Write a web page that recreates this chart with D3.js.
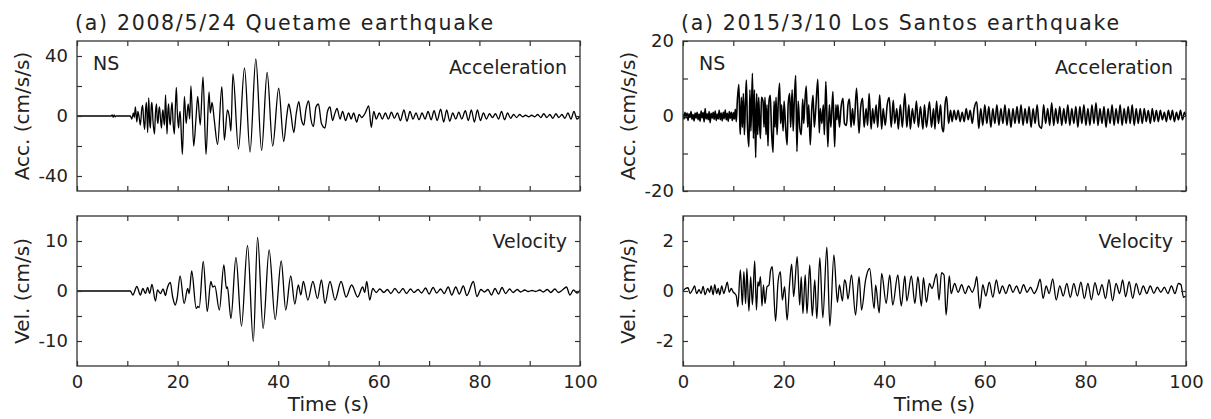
<!DOCTYPE html>
<html>
<head>
<meta charset="utf-8">
<script src="https://d3js.org/d3.v7.min.js"></script>
<style>
  body { margin: 0; background: #fff; }
  text { font-family: "DejaVu Sans", Verdana, sans-serif; fill: #222; }
  .axis path { display: none; }
  .axis line { stroke: #333; stroke-width: 1.2; }
  .axis text { font-size: 18px; fill: #222; }
</style>
</head>
<body>
<svg id="chart" width="1211" height="419"></svg>
<script>
// ---- data (time s, value) ----
const titles = ["(a) 2008/5/24 Quetame earthquake", "(a) 2015/3/10 Los Santos earthquake"];
const titleWidths = [418, 438];
const xTicks = [0, 10, 20, 30, 40, 50, 60, 70, 80, 90, 100];
const xLabels = [0, 20, 40, 60, 80, 100];

// Quetame acceleration (cm/s/s)
const quetameAcc = [[0,0],[6.8,0],[7.0,0.8],[7.2,-0.8],[7.4,0.8],[7.6,-0.6],[7.8,0],[10.6,0],
  [10.9,-2],[11.2,2],[11.4,-1],[11.6,6],[11.9,-4],[12.1,3],[12.4,-2],[12.6,-6],[12.85,4],[13.05,7],[13.25,-3],[13.45,-9],
  [13.65,5],[13.8,9],[14.05,-11],[14.25,12],[14.45,-4],[14.6,-8],[14.75,6],[14.9,9],[15.1,-3],[15.4,-12],[15.6,2],[15.8,8],
  [15.95,-2],[16.1,-5],[16.25,3],[16.4,6],[16.6,-2],[16.8,-8],[16.95,1],[17.1,4],[17.25,-3],[17.4,-6],[17.6,14],[17.9,-12],
  [18.05,2],[18.2,8],[18.35,-1],[18.55,-6],[18.7,3],[18.9,9],[19.1,-4],[19.35,-12],[19.55,5],[19.75,19],[19.95,2],[20.2,-8],
  [20.35,0],[20.5,3],[20.95,-25.5],[21.35,13],[21.7,-5],[22.1,8],[22.4,-2],[22.65,20],[23.2,-20],[23.65,-2],[24.0,13],
  [24.5,-6],[25.05,26],[25.65,-25.5],[26.25,16],[26.5,2],[26.85,9],[27.3,-3],[27.95,-19],[28.8,19.5],[29.3,-16],[29.9,4],
  [30.3,-1],[30.6,-10],[31.0,28],[32.1,-22],[33.3,32],[34.4,-24],[35.55,38],[36.7,-23],[37.8,29],[38.9,-20],[40.1,18.5],
  [41.1,-17],[41.7,0],[42.1,8],[42.5,2],[43.1,-11],[43.6,2],[44.1,9.5],[44.6,-2],[45.1,-6],[45.5,4],[46.05,10],[46.5,-2],
  [47.0,-7],[47.5,6],[48.0,8],[48.6,-5],[49.3,-8],[49.8,3],[50.3,6],[50.8,-3],[51.2,1],[51.7,5],[52.3,-2],[52.8,3],[53.4,-3],
  [54.0,2],[54.5,-2],[55.0,2],[55.6,-4],[56.1,1],[56.6,-1],[57.3,2],[58.0,6.7],[58.5,-7.5],[59.0,3],[59.5,-2],[60.1,2],
  [60.7,-2],[61.3,2],[61.9,-2],[62.5,2.5],[63.1,-1.5],[63.7,2],[64.3,-3],[65.0,4],[65.6,-3.5],[66.2,3],[66.8,-2],[67.4,2],
  [68.0,-2.5],[68.6,2],[69.2,-2],[69.8,3],[70.4,-2.5],[71.0,3.5],[71.6,-3],[72.3,4.5],[72.9,-4],[73.5,4],[74.1,-3.5],
  [74.7,2],[75.3,-2],[75.9,2.5],[76.5,-2],[77.2,3.5],[77.8,-3],[78.4,4],[79.0,-4],[79.6,4],[80.2,-3],[80.8,2],[81.4,-2],
  [82.0,1.5],[82.6,-1],[83.2,1.5],[83.8,-2],[84.4,3],[85.0,-2.5],[85.6,2],[86.2,-1.5],[86.8,1],[87.4,-1],[88.0,1],
  [88.6,-0.5],[89.2,0.5],[89.8,-0.5],[90.4,0.5],[91.0,-0.5],[91.6,1],[92.2,-1],[92.8,1.5],[93.4,-1],[94.0,1],[94.6,-1.5],
  [95.2,1.5],[95.8,-1],[96.4,1],[97.0,-1.5],[97.6,2],[98.2,-2],[98.8,3],[99.4,-2],[100,0]];

// Quetame velocity (cm/s)
const quetameVel = [[0,0],[10.6,0],[11.1,-0.8],[11.9,0.9],[12.6,-0.8],[13.1,0.5],[13.6,-0.5],[14.05,0.7],[14.45,-0.5],
  [14.9,1.3],[15.6,-2],[16.0,0.2],[16.6,-0.5],[17.1,0.4],[17.6,-0.9],[17.9,0.4],[18.55,1.7],[19.0,-1.1],[19.55,-2.8],
  [19.9,-1.5],[20.5,3.0],[21.3,-2.5],[22.0,0.5],[22.3,-0.5],[22.8,4.0],[23.7,-3.5],[24.0,-3.1],[24.3,-3.3],[25.1,5.9],
  [25.9,-4.1],[26.6,1.9],[27.0,0.8],[27.4,1.0],[28.3,-3.8],[29.2,5.2],[29.7,0.5],[29.9,0.8],[30.6,-5.5],[31.6,6.7],
  [32.7,-7],[33.9,9.1],[35.05,-10.1],[35.9,10.7],[37.0,-7.5],[38.2,8.2],[39.4,-5.7],[40.6,6],[41.5,-3.8],[42.5,3],
  [43.3,-2.6],[44.0,1.2],[44.5,-0.8],[45.0,1.9],[45.9,-1.8],[46.9,1.9],[47.8,-1.5],[48.6,2.2],[49.3,-2.5],[50.3,1.9],
  [51.3,-1.8],[52.5,1.9],[53.5,-1.2],[54.6,1.2],[55.8,-1.2],[56.8,0.8],[57.2,-0.3],[57.6,1.9],[58.2,-1.8],[58.8,0.5],
  [59.5,-0.3],[60.2,0.4],[61,-0.3],[61.7,0.3],[62.4,-0.5],[63.2,0.5],[64,-0.4],[64.8,0.5],[65.5,-0.5],[66.3,0.4],[67,-0.3],
  [67.8,0.3],[68.5,-0.4],[69.3,0.6],[70,-0.6],[70.8,0.7],[71.5,-0.4],[72.3,0.4],[73,-0.5],[73.8,0.8],[74.5,-0.8],
  [75.3,0.8],[76,-0.6],[76.8,1.0],[77.5,-0.9],[78.8,1.9],[79.5,-1.1],[80.3,0.3],[81,-0.2],[81.7,0.3],[82.4,-0.8],
  [83.1,0.5],[83.8,-0.6],[84.5,0.7],[85.2,-0.5],[86,0.4],[86.7,-0.3],[87.5,0.3],[88.2,-0.2],[89,0.2],[89.7,-0.1],
  [90.5,0.1],[91.2,-0.1],[92,0.2],[92.7,-0.2],[93.5,0.3],[94.2,-0.3],[95,0.4],[95.7,-0.3],[96.5,0.2],[97.3,0.8],
  [98,-0.8],[98.7,0.2],[99.4,-0.4],[100,0.2]];

// Los Santos acceleration (cm/s/s)
const santosAcc = [[0,0.5],[0.2,-0.8],[0.4,1.0],[0.6,-0.5],[0.8,0.8],[1.0,-1.2],[1.2,0.6],[1.4,-0.4],[1.6,1.2],[1.8,-0.9],
  [2.0,0.4],[2.2,-1.3],[2.4,0.8],[2.6,-0.6],[2.8,1.0],[3.0,-1.0],[3.2,0.5],[3.4,-1.4],[3.6,1.3],[3.8,-0.5],[4.0,0.9],
  [4.2,-1.6],[4.4,2.0],[4.6,-0.8],[4.8,0.6],[5.0,-1.0],[5.2,1.2],[5.4,-1.8],[5.6,0.7],[5.8,-0.6],[6.0,1.0],[6.2,-0.9],
  [6.4,1.3],[6.6,-1.2],[6.8,0.5],[7.0,-0.8],[7.2,1.5],[7.4,-1.0],[7.6,0.8],[7.8,-1.3],[8.0,1.0],[8.2,-0.7],[8.4,1.6],
  [8.6,-1.0],[8.8,0.7],[9.0,-1.4],[9.2,1.2],[9.4,-0.6],[9.6,1.0],[9.8,-1.2],[10.0,0.9],[10.2,-0.8],[10.4,1.8],[10.6,-1.5],
  [10.8,4],[11.1,8.4],[11.3,-2],[11.4,-4.9],[11.6,5],[11.8,-3],[12.0,6],[12.2,-5],[12.4,3],[12.6,9.6],[12.8,-2],[13.1,-8.2],
  [13.3,7],[13.5,-4],[13.8,11.4],[14.0,-6],[14.2,7],[14.45,-11.1],[14.65,6],[14.85,-5],[15.05,5],[15.25,-3],[15.4,-6],
  [15.6,5],[15.9,4],[16.1,-3],[16.3,5],[16.5,-5],[16.7,3],[16.9,-8],[17.1,4],[17.35,5.5],[17.6,-4],[17.9,-9.7],[18.1,4],
  [18.3,-3],[18.5,5],[18.7,-5],[18.95,4],[19.2,8.7],[19.4,-2],[19.6,3],[19.9,-4],[20.1,4],[20.4,-3],[20.7,-7.7],[20.9,3],
  [21.2,6],[21.4,-3],[21.7,7],[21.9,-4],[22.1,3],[22.4,10.8],[22.65,-9.5],[22.9,4],[23.2,-3],[23.5,-5],[23.8,4.5],[24.0,-2],
  [24.2,3],[24.5,8],[24.8,-3],[25.0,3],[25.3,-7.7],[25.6,2],[25.85,5.5],[26.1,-3],[26.4,2],[26.8,9.8],[27.1,-4.5],[27.3,2],
  [27.6,-2],[27.9,3],[28.1,-5],[28.4,9.2],[28.8,-8.2],[29.1,3],[29.4,-3],[29.8,6.5],[30.15,-8.2],[30.4,3],[30.6,-1],
  [30.8,3],[31.1,-3],[31.4,2],[31.8,4.7],[32.1,-2],[32.5,-2.5],[32.8,3],[33.1,4.5],[33.4,-3],[33.7,2],[34.0,-2.5],
  [34.5,7.4],[35.0,-4.6],[35.3,2],[35.7,4.7],[36.0,-3],[36.4,2],[36.7,-2.5],[37.0,6],[37.4,-3.5],[37.7,2],[38.0,-2],
  [38.4,3],[38.7,-3],[39.1,5.6],[39.5,-3.5],[39.8,2],[40.2,-2.5],[40.6,3],[41.0,4.9],[41.4,-3],[41.8,4.2],[42.1,-2],
  [42.5,2],[42.8,-3.5],[43.2,3],[43.6,-3],[44.1,6],[44.5,-3],[44.9,3],[45.2,-3.5],[45.6,2],[46.0,-2],[46.4,4],[46.8,-3],
  [47.2,2.5],[47.7,-3.5],[48.0,3],[48.4,-3],[49.0,3.8],[49.4,-3],[49.8,2],[50.1,-3.5],[50.4,4],[50.8,-2],[51.2,3],
  [51.5,-3],[51.8,-4.2],[52.1,3],[52.4,5.2],[52.8,-2],[53.2,1.5],[53.5,-1.5],[53.9,1.5],[54.3,-1],[54.7,1.5],[55.1,-1.5],
  [55.5,1],[55.9,-1.5],[56.3,2],[56.7,-1],[57.1,1.5],[57.5,-2],[57.9,2],[58.4,3.8],[58.8,-3.3],[59.2,2],[59.6,-2.5],
  [60,3],[60.4,-2],[60.8,2.5],[61.2,-3],[61.6,2],[62.0,-2],[62.4,3],[62.8,-2.5],[63.2,2],[63.6,-2],[64.0,3],[64.4,-2.5],
  [64.8,2],[65.2,-3],[65.6,2],[66.0,-2],[66.4,2.5],[66.8,-2],[67.2,3],[67.6,-2.5],[68.0,2],[68.4,-2],[68.8,2.5],[69.2,-3],
  [69.6,2],[70.0,-2],[70.4,3],[70.8,-2.5],[71.3,-3.3],[71.7,3],[72.1,-2],[72.5,2],[72.9,-2.5],[73.3,3.5],[73.7,-2.5],
  [74.1,2],[74.5,-2],[74.9,2.5],[75.3,-2.5],[75.7,2],[76.1,-2],[76.5,3],[76.9,-2.5],[77.3,2],[77.7,-2],[78.1,2.5],
  [78.5,-3],[78.9,2.5],[79.3,-2],[79.7,3],[80.1,-2.5],[80.5,2],[80.9,-2.5],[81.3,3],[81.7,-2],[82.1,3.5],[82.5,-2.5],
  [82.9,2],[83.3,-2],[83.7,2.5],[84.1,-3],[84.5,2],[84.9,-2],[85.3,3],[85.7,-2.5],[86.1,2],[86.5,-2],[86.9,3],[87.3,-2.5],
  [87.7,2],[88.1,-2],[88.5,2.5],[88.9,-2],[89.3,3],[89.7,-2.5],[90.1,2],[90.5,-2],[90.9,2],[91.3,-2],[91.7,2],[92.1,-1.5],
  [92.5,1.5],[92.9,-2],[93.3,2],[93.7,-1.5],[94.1,1.5],[94.5,-1.5],[94.9,1.5],[95.3,-1],[95.7,1],[96.1,-1.5],[96.5,1.5],
  [96.9,-1],[97.3,1.5],[97.7,-1.5],[98.1,1],[98.5,-1],[98.9,1.5],[99.3,-1],[99.7,1],[100,0]];

// Los Santos velocity (cm/s)
const santosVel = [[0,0],[0.5,0.1],[1.0,0.13],[1.4,-0.1],[1.9,0.05],[2.3,0.2],[2.7,-0.1],[3.2,0.05],[3.6,-0.1],[4.0,0.18],
  [4.4,-0.15],[4.9,0.1],[5.3,-0.05],[5.6,0.2],[6.0,-0.15],[6.3,0.25],[6.7,-0.1],[7.0,0.1],[7.3,-0.15],[7.7,0.2],[8.1,-0.1],
  [8.5,0.15],[8.8,0.35],[9.2,-0.05],[9.6,0.1],[10.0,-0.05],[10.3,-0.1],[10.6,-0.2],[10.9,-0.63],[11.4,0.84],[11.8,-0.56],
  [12.1,0.77],[12.45,-0.5],[12.7,0.9],[13.1,-0.8],[13.45,0.57],[13.8,-0.55],[14.25,1.2],[14.6,-0.76],[14.9,0.37],
  [15.1,0.2],[15.4,0.57],[15.7,-0.6],[16.0,0.24],[16.3,-0.5],[16.7,0.17],[17.1,0.24],[17.4,0.8],[17.75,0.97],[18.4,-1.2],
  [18.9,0.37],[19.35,0.77],[19.75,-0.36],[20.2,0.17],[20.7,-1.16],[21.2,0.3],[21.6,1.07],[22.0,-0.22],[22.7,1.37],
  [23.2,-0.56],[23.5,0.57],[23.85,-0.9],[24.3,0.64],[24.65,-0.9],[25.2,1.04],[25.7,-1.0],[26.2,0.44],[26.6,-1.1],
  [27.2,1.33],[27.8,-1.07],[28.6,1.75],[29.2,-1.4],[30.0,1.44],[30.7,-0.45],[31.1,0.24],[31.7,-0.4],[32.1,0.44],
  [32.4,0.3],[32.8,-0.32],[33.5,0.64],[34.3,-0.96],[35.0,0.57],[35.5,-0.76],[36.3,0.44],[37.1,0.9],[38.0,-0.7],
  [38.3,0.24],[39.0,-0.87],[39.5,0.7],[40.4,-0.5],[41.1,0.64],[41.7,-0.56],[42.7,0.64],[43.4,-0.6],[44.1,0.6],[44.5,-0.4],
  [45.4,0.6],[46.1,-0.5],[46.7,0.57],[47.4,-0.6],[47.8,0.53],[48.4,-0.45],[49.0,0.3],[49.5,0.1],[50.4,0.68],[50.9,-0.36],
  [51.4,0.73],[51.9,0.64],[52.3,-0.96],[52.95,0.6],[53.3,-0.1],[54.0,0.3],[54.7,-0.05],[55.4,0.25],[56.1,-0.1],[56.8,0.2],
  [57.5,-0.05],[58.0,0.2],[58.4,0.57],[59.0,-0.7],[59.6,0.25],[60.2,-0.2],[60.9,0.35],[61.6,-0.25],[62.3,0.44],
  [62.9,-0.1],[63.5,0.2],[64.2,-0.1],[64.9,0.25],[65.6,-0.05],[66.3,0.2],[67.0,-0.1],[67.7,0.25],[68.4,-0.05],[69.1,0.15],
  [69.8,-0.1],[70.4,0.1],[71.0,0.47],[71.6,-0.3],[72.2,0.2],[72.8,-0.1],[73.5,0.48],[74.2,-0.36],[74.9,0.2],[75.6,-0.2],
  [76.3,0.3],[77.0,-0.25],[77.7,0.3],[78.4,-0.2],[79.1,0.35],[79.8,-0.3],[80.5,0.3],[81.2,-0.35],[81.9,0.33],[82.6,-0.16],
  [83.3,0.25],[84.0,-0.3],[84.7,0.45],[85.4,-0.39],[86.1,0.3],[86.8,-0.1],[87.4,0.44],[88.0,-0.23],[88.7,0.37],
  [89.4,-0.29],[90.1,0.3],[90.8,-0.15],[91.5,0.2],[92.2,-0.1],[92.9,0.2],[93.6,-0.09],[94.3,0.15],[95.0,-0.05],
  [95.7,0.15],[96.4,-0.1],[97.1,0.2],[97.8,-0.1],[98.5,0.3],[99.0,0.25],[99.5,-0.25],[100,-0.2]];

// panel definitions: y domains and tick values
const panels = [
  {col: 0, row: 0, series: quetameAcc, domain: [-50, 50], ticks: [-40, -20, 0, 20, 40], labels: [-40, 0, 40], ylabel: "Acc. (cm/s/s)", tag: "Acceleration", lw: 1.3},
  {col: 0, row: 1, series: quetameVel, domain: [-15, 15], ticks: [-10, -5, 0, 5, 10], labels: [-10, 0, 10], ylabel: "Vel. (cm/s)", tag: "Velocity", lw: 1.3},
  {col: 1, row: 0, series: santosAcc, domain: [-20, 20], ticks: [-20, -10, 0, 10, 20], labels: [-20, 0, 20], ylabel: "Acc. (cm/s/s)", tag: "Acceleration", lw: 1.6},
  {col: 1, row: 1, series: santosVel, domain: [-3, 3], ticks: [-2, -1, 0, 1, 2], labels: [-2, 0, 2], ylabel: "Vel. (cm/s)", tag: "Velocity", lw: 1.3}
];

const svg = d3.select("#chart");
const colX = [[77, 580], [683, 1186]];
const rowY = [[41, 191], [216, 366]];
const tick = 5;

// titles
titles.forEach((t, i) => {
  svg.append("text")
    .attr("x", colX[i][0] - 2)
    .attr("y", 30)
    .attr("textLength", titleWidths[i])
    .attr("lengthAdjust", "spacing")
    .style("font-size", "20.5px")
    .text(t);
});

panels.forEach((p, i) => {
  const [x0, x1] = colX[p.col];
  const [y0, y1] = rowY[p.row];
  const x = d3.scaleLinear().domain([0, 100]).range([x0, x1]);
  const y = d3.scaleLinear().domain(p.domain).range([y1, y0]);

  // clip for the trace
  svg.append("clipPath").attr("id", "clip" + i)
    .append("rect").attr("x", x0).attr("y", y0).attr("width", x1 - x0).attr("height", y1 - y0);

  const line = d3.line()
    .x(d => x(d[0]))
    .y(d => y(d[1]))
    .curve(d3.curveMonotoneX);

  svg.append("path")
    .datum(p.series)
    .attr("clip-path", "url(#clip" + i + ")")
    .attr("fill", "none")
    .attr("stroke", "#000")
    .attr("stroke-width", p.lw)
    .attr("stroke-linejoin", "round")
    .attr("d", line);

  // axes, ticks pointing inward on all four sides
  const showX = p.row === 1;
  svg.append("g").attr("class", "axis")
    .attr("transform", "translate(0," + y1 + ")")
    .call(d3.axisBottom(x).tickValues(xTicks).tickSize(-tick).tickPadding(9)
      .tickFormat(d => showX && xLabels.includes(d) ? String(d) : ""));
  svg.append("g").attr("class", "axis")
    .attr("transform", "translate(0," + y0 + ")")
    .call(d3.axisTop(x).tickValues(xTicks).tickSize(-tick).tickFormat(""));
  svg.append("g").attr("class", "axis")
    .attr("transform", "translate(" + x0 + ",0)")
    .call(d3.axisLeft(y).tickValues(p.ticks).tickSize(-tick).tickPadding(9)
      .tickFormat(d => p.labels.includes(d) ? String(d) : ""));
  svg.append("g").attr("class", "axis")
    .attr("transform", "translate(" + x1 + ",0)")
    .call(d3.axisRight(y).tickValues(p.ticks).tickSize(-tick).tickFormat(""));

  // frame
  svg.append("rect")
    .attr("x", x0).attr("y", y0)
    .attr("width", x1 - x0).attr("height", y1 - y0)
    .attr("fill", "none").attr("stroke", "#333").attr("stroke-width", 1.3);

  // y label
  svg.append("text")
    .attr("transform", "translate(" + (x0 - 55) + "," + ((y0 + y1) / 2) + ") rotate(-90)")
    .attr("text-anchor", "middle")
    .attr("dy", "0.35em")
    .style("font-size", "20px")
    .text(p.ylabel);

  // panel tag
  svg.append("text")
    .attr("x", x1 - 13)
    .attr("y", y0 + (p.row === 0 ? 33 : 32))
    .attr("text-anchor", "end")
    .style("font-size", "19px")
    .text(p.tag);

  if (p.row === 0) {
    svg.append("text")
      .attr("x", x0 + 16)
      .attr("y", y0 + 29)
      .style("font-size", "19px")
      .text("NS");
  } else {
    svg.append("text")
      .attr("x", (x0 + x1) / 2)
      .attr("y", 411)
      .attr("text-anchor", "middle")
      .style("font-size", "20px")
      .text("Time (s)");
  }
});
</script>
</body>
</html>
